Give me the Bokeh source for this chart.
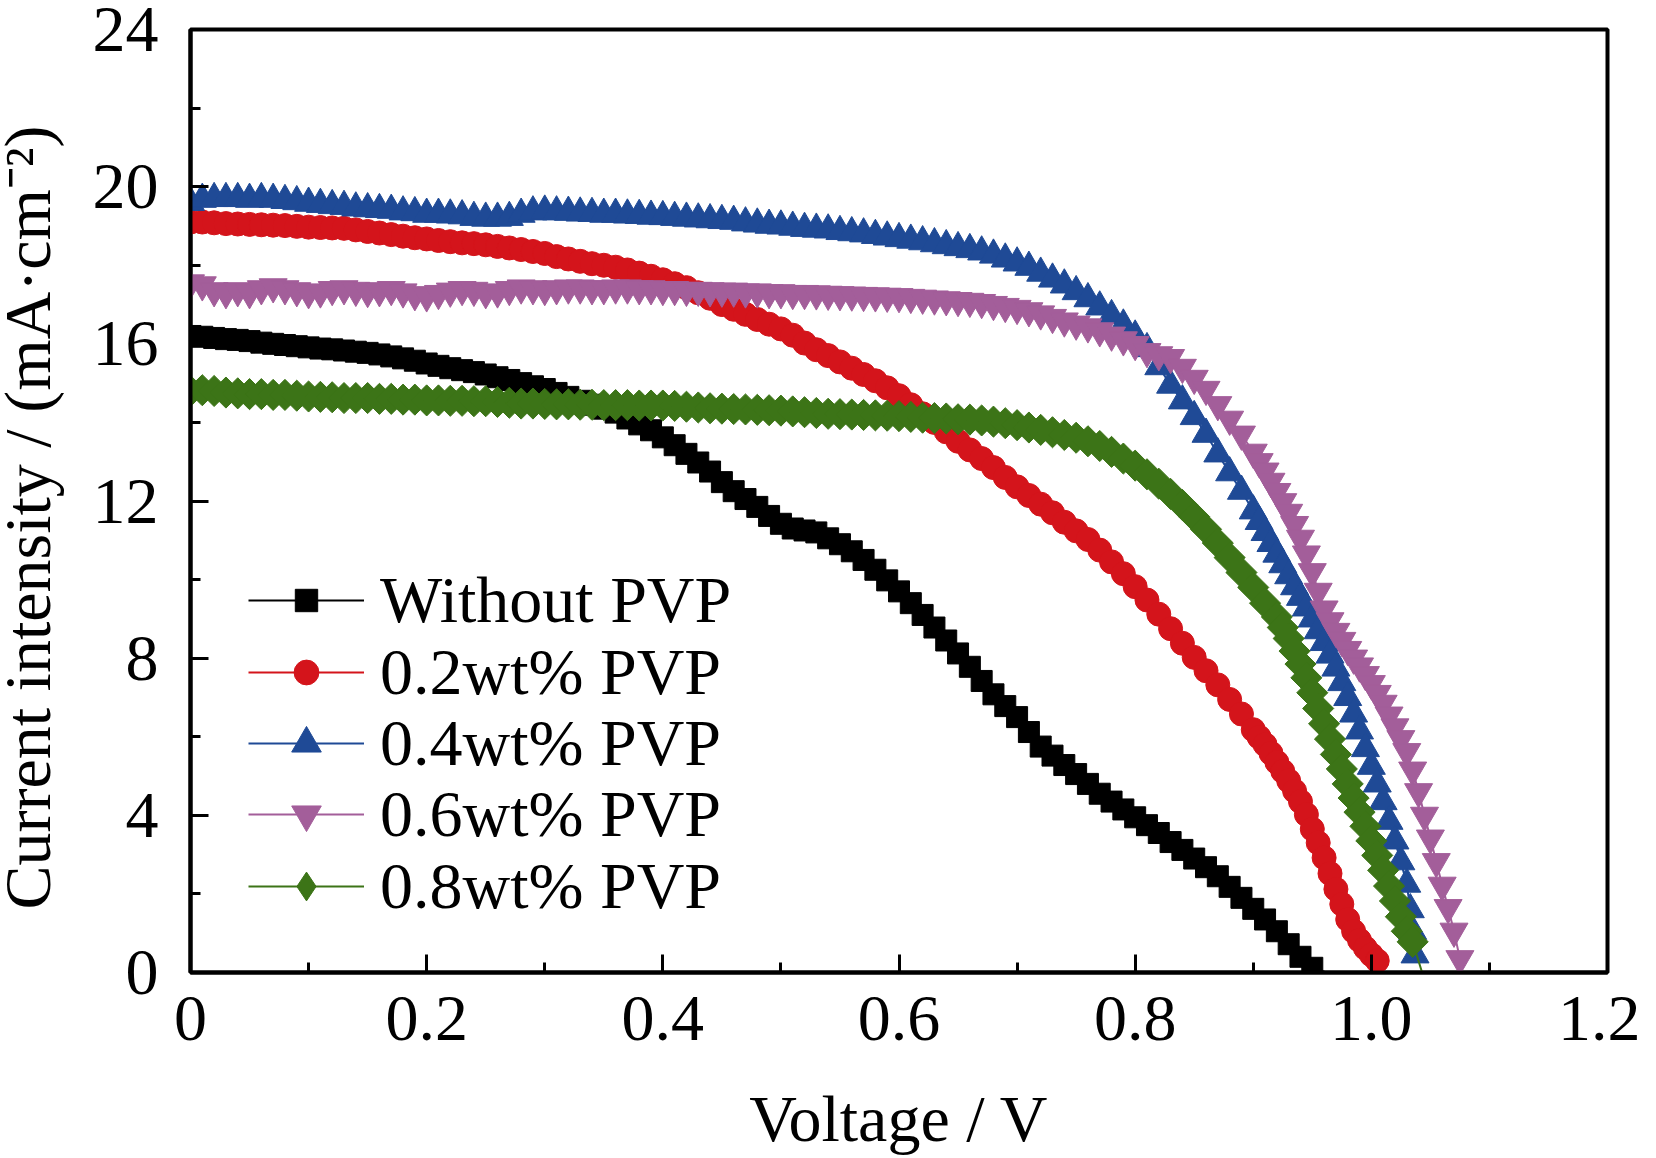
import math
from bokeh.plotting import figure
from bokeh.models import Range1d, FixedTicker, Legend, LegendItem
from bokeh.embed import file_html
from bokeh.resources import INLINE

FONT = "Liberation Serif"

# ---------------- axes / ticks ----------------
x_ticks = [0, 0.2, 0.4, 0.6, 0.8, 1.0, 1.2]
x_tick_labels = ["0", "0.2", "0.4", "0.6", "0.8", "1.0", "1.2"]
x_minor = [0.1, 0.3, 0.5, 0.7, 0.9, 1.1]
y_ticks = [0, 4, 8, 12, 16, 20, 24]
y_tick_labels = ["0", "4", "8", "12", "16", "20", "24"]
y_minor = [2, 6, 10, 14, 18, 22]
x_label = "Voltage / V"
y_label = "Current intensity / (mA\u00b7cm\u207b\u00b2)"

names = ["Without PVP", "0.2wt% PVP", "0.4wt% PVP", "0.6wt% PVP", "0.8wt% PVP"]
colors = ["#000000", "#D4141B", "#1F4A96", "#A35E9A", "#3C7417"]

# ---------------- data ----------------
v_grid = [0.00, 0.01, 0.02, 0.03, 0.04, 0.05, 0.06, 0.07, 0.08, 0.09,
          0.10, 0.11, 0.12, 0.13, 0.14, 0.15, 0.16, 0.17, 0.18, 0.19,
          0.20, 0.21, 0.22, 0.23, 0.24, 0.25, 0.26, 0.27, 0.28, 0.29,
          0.30, 0.31, 0.32, 0.33, 0.34, 0.35, 0.36, 0.37, 0.38, 0.39,
          0.40, 0.41, 0.42, 0.43, 0.44, 0.45, 0.46, 0.47, 0.48, 0.49,
          0.50, 0.51, 0.52, 0.53, 0.54, 0.55, 0.56, 0.57, 0.58, 0.59,
          0.60, 0.61, 0.62, 0.63, 0.64, 0.65, 0.66, 0.67, 0.68, 0.69,
          0.70, 0.71, 0.72, 0.73, 0.74, 0.75, 0.76, 0.77, 0.78, 0.79,
          0.80, 0.81, 0.82, 0.83, 0.84, 0.85, 0.86, 0.87, 0.88, 0.89,
          0.90, 0.91, 0.92, 0.93, 0.94, 0.95]

# Without PVP
black_v = v_grid[:96]
black_i = [16.20, 16.18, 16.15, 16.12, 16.10, 16.07, 16.03, 16.00, 15.97, 15.94,
           15.91, 15.88, 15.86, 15.83, 15.80, 15.77, 15.73, 15.68, 15.63, 15.57,
           15.50, 15.44, 15.38, 15.33, 15.28, 15.22, 15.15, 15.08, 15.00, 14.92,
           14.85, 14.75, 14.65, 14.55, 14.45, 14.35, 14.25, 14.10, 13.95, 13.80,
           13.62, 13.42, 13.20, 12.98, 12.75, 12.48, 12.25, 12.05, 11.85, 11.62,
           11.42, 11.30, 11.25, 11.20, 11.05, 10.90, 10.72, 10.50, 10.25, 9.98,
           9.70, 9.40, 9.10, 8.78, 8.45, 8.12, 7.78, 7.42, 7.08, 6.78,
           6.50, 6.12, 5.75, 5.52, 5.28, 5.05, 4.80, 4.55, 4.35, 4.15,
           3.95, 3.75, 3.55, 3.32, 3.12, 2.90, 2.68, 2.45, 2.18, 1.90,
           1.62, 1.35, 1.05, 0.72, 0.40, 0.12]
black_line_end = (0.962, 0.0)

# 0.2 wt% PVP
red_v = v_grid[:90] + [0.900, 0.905, 0.910, 0.915, 0.920, 0.925, 0.930, 0.935, 0.940, 0.945,
                       0.950, 0.955, 0.960, 0.965, 0.970, 0.975, 0.980, 0.985, 0.990, 0.995,
                       1.000, 1.005]
red_i = [19.10, 19.10, 19.08, 19.06, 19.05, 19.04, 19.03, 19.02, 19.01, 18.99,
         18.97, 18.96, 18.95, 18.94, 18.90, 18.86, 18.82, 18.78, 18.74, 18.70,
         18.67, 18.63, 18.60, 18.57, 18.55, 18.52, 18.48, 18.44, 18.40, 18.35,
         18.30, 18.22, 18.16, 18.10, 18.04, 18.00, 17.95, 17.88, 17.80, 17.72,
         17.63, 17.53, 17.43, 17.30, 17.16, 17.00, 16.88, 16.75, 16.62, 16.50,
         16.38, 16.22, 16.02, 15.85, 15.70, 15.54, 15.38, 15.22, 15.06, 14.88,
         14.68, 14.45, 14.22, 14.00, 13.76, 13.52, 13.30, 13.08, 12.85, 12.60,
         12.36, 12.14, 11.92, 11.70, 11.46, 11.24, 11.02, 10.75, 10.45, 10.15,
         9.82, 9.48, 9.12, 8.75, 8.38, 8.02, 7.68, 7.32, 6.95, 6.58,
         6.18, 5.99, 5.80, 5.58, 5.35, 5.12, 4.88, 4.62, 4.35, 4.02,
         3.65, 3.30, 2.92, 2.52, 2.12, 1.74, 1.35, 1.05, 0.82, 0.62,
         0.45, 0.30]

# 0.4 wt% PVP
blue_v = v_grid[:90] + [0.900, 0.905, 0.910, 0.915, 0.920, 0.925, 0.930, 0.935, 0.940, 0.945,
                        0.950, 0.955, 0.960, 0.965, 0.970, 0.975, 0.980, 0.985, 0.990, 0.995,
                        1.000, 1.005, 1.010, 1.015, 1.020, 1.025, 1.030, 1.033, 1.035, 1.037]
blue_i = [19.60, 19.68, 19.70, 19.70, 19.70, 19.68, 19.70, 19.68, 19.65, 19.62,
          19.58, 19.55, 19.52, 19.50, 19.46, 19.44, 19.42, 19.40, 19.36, 19.34,
          19.30, 19.30, 19.28, 19.26, 19.22, 19.20, 19.20, 19.22, 19.30, 19.36,
          19.38, 19.36, 19.35, 19.33, 19.32, 19.30, 19.30, 19.28, 19.27, 19.25,
          19.24, 19.22, 19.20, 19.18, 19.16, 19.14, 19.12, 19.08, 19.05, 19.02,
          19.00, 18.97, 18.94, 18.92, 18.90, 18.86, 18.83, 18.80, 18.76, 18.72,
          18.68, 18.64, 18.60, 18.55, 18.50, 18.45, 18.40, 18.34, 18.26, 18.16,
          18.06, 17.95, 17.80, 17.65, 17.50, 17.33, 17.15, 16.94, 16.72, 16.48,
          16.20, 15.88, 15.42, 14.95, 14.55, 14.15, 13.70, 13.20, 12.72, 12.25,
          11.75, 11.48, 11.20, 10.92, 10.65, 10.38, 10.10, 9.82, 9.55, 9.28,
          9.00, 8.70, 8.40, 8.08, 7.75, 7.38, 7.00, 6.58, 6.15, 5.70,
          5.25, 4.80, 4.35, 3.85, 3.35, 2.82, 2.25, 1.60, 1.05, 0.45]

# 0.6 wt% PVP
purple_v = v_grid[:90] + [0.900, 0.905, 0.910, 0.915, 0.920, 0.925, 0.930, 0.935, 0.940, 0.945,
                          0.950, 0.955, 0.960, 0.965, 0.970, 0.975, 0.980, 0.985, 0.990, 0.995,
                          1.000, 1.005, 1.010, 1.015, 1.020, 1.025, 1.030, 1.035, 1.040, 1.045,
                          1.050, 1.055, 1.060, 1.065, 1.070, 1.075]
purple_i = [17.55, 17.50, 17.35, 17.30, 17.35, 17.30, 17.40, 17.45, 17.40, 17.35,
            17.30, 17.32, 17.38, 17.40, 17.36, 17.33, 17.35, 17.38, 17.32, 17.25,
            17.22, 17.28, 17.34, 17.38, 17.36, 17.30, 17.32, 17.38, 17.42, 17.40,
            17.38, 17.40, 17.42, 17.42, 17.40, 17.40, 17.42, 17.42, 17.40, 17.40,
            17.38, 17.38, 17.36, 17.36, 17.35, 17.34, 17.34, 17.32, 17.32, 17.30,
            17.30, 17.28, 17.28, 17.27, 17.26, 17.25, 17.24, 17.23, 17.22, 17.21,
            17.20, 17.18, 17.16, 17.14, 17.12, 17.10, 17.08, 17.05, 17.00, 16.95,
            16.90, 16.84, 16.76, 16.67, 16.58, 16.50, 16.43, 16.33, 16.22, 16.10,
            15.98, 15.80, 15.72, 15.65, 15.40, 15.12, 14.84, 14.45, 14.08, 13.70,
            13.24, 13.00, 12.76, 12.50, 12.24, 11.98, 11.71, 11.40, 11.05, 10.65,
            10.20, 9.70, 9.25, 8.95, 8.68, 8.45, 8.22, 8.00, 7.80, 7.58,
            7.35, 7.10, 6.85, 6.55, 6.25, 5.95, 5.62, 5.15, 4.60, 4.00,
            3.42, 2.82, 2.22, 1.65, 1.05, 0.35]

# 0.8 wt% PVP
green_v = v_grid[:93] + [0.925, 0.930, 0.935, 0.940, 0.945, 0.950, 0.955, 0.960, 0.965, 0.970,
                         0.975, 0.980, 0.985, 0.990, 0.995, 1.000, 1.005, 1.010, 1.015, 1.020,
                         1.025, 1.030, 1.035]
green_i = [14.80, 14.82, 14.80, 14.76, 14.74, 14.72, 14.72, 14.70, 14.70, 14.68,
           14.66, 14.65, 14.64, 14.62, 14.62, 14.62, 14.60, 14.60, 14.58, 14.58,
           14.56, 14.56, 14.55, 14.55, 14.54, 14.54, 14.52, 14.50, 14.48, 14.48,
           14.47, 14.46, 14.46, 14.45, 14.45, 14.44, 14.44, 14.44, 14.43, 14.43,
           14.43, 14.42, 14.40, 14.38, 14.36, 14.35, 14.34, 14.33, 14.32, 14.31,
           14.30, 14.28, 14.26, 14.24, 14.22, 14.21, 14.20, 14.19, 14.18, 14.17,
           14.16, 14.14, 14.12, 14.11, 14.10, 14.08, 14.07, 14.05, 14.02, 13.98,
           13.93, 13.87, 13.81, 13.75, 13.68, 13.61, 13.52, 13.40, 13.25, 13.08,
           12.90, 12.68, 12.44, 12.18, 11.90, 11.60, 11.28, 10.93, 10.56, 10.18,
           9.80, 9.40, 9.05,
           8.78, 8.50, 8.18, 7.85, 7.50, 7.12, 6.72, 6.33, 5.94, 5.55,
           5.18, 4.80, 4.44, 4.08, 3.72, 3.35, 2.98, 2.60, 2.20, 1.82,
           1.42, 1.05, 0.78]
green_line_end = (1.043, 0.0)

# ---------------- figure ----------------
SHIFT = 17  # the figure is pulled left so the rotated title can reach the page edge
p = figure(width=1640 + SHIFT, height=1158,
           x_range=Range1d(0, 1.2), y_range=Range1d(0, 24),
           output_backend="svg", toolbar_location=None,
           min_border_left=190 + SHIFT, min_border_right=33,
           min_border_top=29, min_border_bottom=186,
           styles={"margin-left": "-%dpx" % SHIFT})
p.background_fill_color = "white"
p.border_fill_color = "white"
p.xgrid.visible = False
p.ygrid.visible = False
p.outline_line_color = "black"
p.outline_line_width = 4
p.outline_line_alpha = 1.0

p.xaxis.ticker = FixedTicker(ticks=x_ticks, minor_ticks=x_minor)
p.yaxis.ticker = FixedTicker(ticks=y_ticks, minor_ticks=y_minor)
p.xaxis.major_label_overrides = dict(zip(x_ticks, x_tick_labels))
p.yaxis.major_label_overrides = dict(zip(y_ticks, y_tick_labels))
p.xaxis.axis_label = x_label
# two no-break spaces push the rotated title's centre down, as in the original
p.yaxis.axis_label = y_label + "\u00a0\u00a0"

for ax in (p.xaxis[0], p.yaxis[0]):
    ax.axis_line_width = 4
    ax.axis_line_color = "black"
    ax.major_tick_line_width = 3
    ax.minor_tick_line_width = 3
    ax.major_tick_in = 18
    ax.major_tick_out = 0
    ax.minor_tick_in = 10
    ax.minor_tick_out = 0
    ax.major_label_text_font = FONT
    ax.major_label_text_font_size = "66px"
    ax.major_label_text_color = "black"
    ax.axis_label_text_font = FONT
    ax.axis_label_text_font_size = "66px"
    ax.axis_label_text_font_style = "normal"
    ax.axis_label_text_color = "black"

p.xaxis.major_label_standoff = 24
p.xaxis.axis_label_standoff = 39
p.yaxis.major_label_standoff = 32
p.yaxis.axis_label_standoff = 26

series = [
    (black_v, black_i, "square", 21, 0.0, black_line_end),
    (red_v, red_i, "circle", 24, 0.0, None),
    (blue_v, blue_i, "triangle", 28, 0.0, None),
    (purple_v, purple_i, "inverted_triangle", 28, 0.0, None),
    (green_v, green_i, "square", 22, math.pi / 4, green_line_end),
]
legend_glyph_h = [56, 62, 74, 74, 72]

for k, ((vs, cs, marker, size, ang, tail), name, col) in enumerate(zip(series, names, colors)):
    lx = list(vs)
    ly = list(cs)
    if tail is not None:
        lx.append(tail[0])
        ly.append(tail[1])
    lr = p.line(lx, ly, line_color=col, line_width=2)
    if ang != 0.0:
        # plain diamond lying fully inside the rotated squares; used as legend key
        leg_r = p.scatter(vs, cs, marker="diamond", size=28,
                          fill_color=col, line_color=col, line_width=1)
    sr = p.scatter(vs, cs, marker=marker, size=size, angle=ang,
                   fill_color=col, line_color=col, line_width=1)
    if ang == 0.0:
        leg_r = sr
    # one legend box per entry so the rows sit at the original spacing
    row_y = 333.6 - 71.3 * k
    lg = Legend(items=[LegendItem(label=name, renderers=[lr, leg_r])],
                location=(58, row_y), orientation="vertical",
                label_text_font=FONT, label_text_font_size="66px",
                label_text_color="black",
                glyph_width=116, glyph_height=legend_glyph_h[k], label_height=71,
                label_standoff=16, spacing=0, padding=0, margin=0,
                border_line_alpha=0, background_fill_alpha=0)
    p.add_layout(lg)

open("out.html", "w").write(file_html(p, INLINE))
